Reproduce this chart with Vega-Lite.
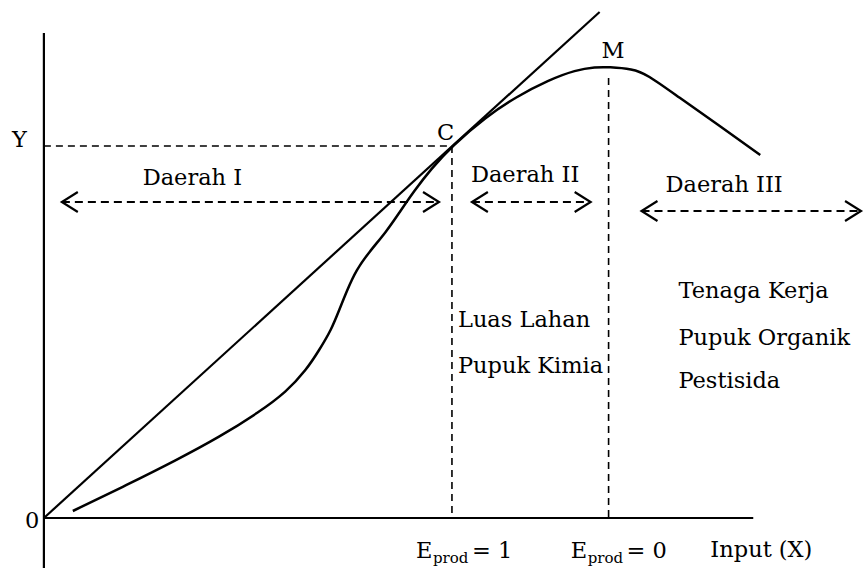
{
  "$schema": "https://vega.github.io/schema/vega-lite/v6.json",
  "width": 866,
  "height": 570,
  "padding": 0,
  "autosize": {"type": "fit", "contains": "padding"},
  "background": "white",
  "config": {"view": {"stroke": null}, "axis": {"disable": true}},
  "encoding": {
    "x": {"field": "x", "type": "quantitative", "scale": {"domain": [-44, 822], "nice": false, "zero": false}, "axis": null},
    "y": {"field": "y", "type": "quantitative", "scale": {"domain": [-52, 518], "nice": false, "zero": false}, "axis": null}
  },
  "layer": [
    {
      "data": {"values": [
        {"x": 0, "y": 485, "x2": 0, "y2": -50},
        {"x": 0, "y": 0, "x2": 711, "y2": 0},
        {"x": 0, "y": 0, "x2": 557, "y2": 506}
      ]},
      "mark": {"type": "rule", "color": "black", "strokeWidth": 2.2},
      "encoding": {"x2": {"field": "x2"}, "y2": {"field": "y2"}}
    },
    {
      "data": {"values": [
        {"x": 0, "y": 372, "x2": 409, "y2": 372},
        {"x": 409, "y": 372, "x2": 409, "y2": 0},
        {"x": 566, "y": 440, "x2": 566, "y2": 0}
      ]},
      "mark": {"type": "rule", "color": "black", "strokeWidth": 1.6, "strokeDash": [7, 5]},
      "encoding": {"x2": {"field": "x2"}, "y2": {"field": "y2"}}
    },
    {
      "data": {"values": [
        {"x": 18, "y": 316, "x2": 396, "y2": 316},
        {"x": 429, "y": 316, "x2": 548, "y2": 316},
        {"x": 599, "y": 307, "x2": 819, "y2": 307}
      ]},
      "mark": {"type": "rule", "color": "black", "strokeWidth": 2.2, "strokeDash": [8, 5]},
      "encoding": {"x2": {"field": "x2"}, "y2": {"field": "y2"}}
    },
    {
      "data": {"values": [
        {"id": "a1", "o": 1, "x": 34, "y": 326}, {"id": "a1", "o": 2, "x": 18, "y": 316}, {"id": "a1", "o": 3, "x": 34, "y": 306},
        {"id": "a2", "o": 1, "x": 380, "y": 326}, {"id": "a2", "o": 2, "x": 396, "y": 316}, {"id": "a2", "o": 3, "x": 380, "y": 306},
        {"id": "b1", "o": 1, "x": 445, "y": 326}, {"id": "b1", "o": 2, "x": 429, "y": 316}, {"id": "b1", "o": 3, "x": 445, "y": 306},
        {"id": "b2", "o": 1, "x": 532, "y": 326}, {"id": "b2", "o": 2, "x": 548, "y": 316}, {"id": "b2", "o": 3, "x": 532, "y": 306},
        {"id": "c1", "o": 1, "x": 615, "y": 317}, {"id": "c1", "o": 2, "x": 599, "y": 307}, {"id": "c1", "o": 3, "x": 615, "y": 297},
        {"id": "c2", "o": 1, "x": 803, "y": 317}, {"id": "c2", "o": 2, "x": 819, "y": 307}, {"id": "c2", "o": 3, "x": 803, "y": 297}
      ]},
      "mark": {"type": "line", "color": "black", "strokeWidth": 2.2},
      "encoding": {"detail": {"field": "id"}, "order": {"field": "o", "type": "quantitative"}}
    },
    {
      "data": {"values": [
        {"x": 29, "y": 7}, {"x": 83, "y": 33}, {"x": 133, "y": 58}, {"x": 176, "y": 81},
        {"x": 216, "y": 106}, {"x": 243, "y": 126}, {"x": 263, "y": 148}, {"x": 276, "y": 168},
        {"x": 288, "y": 188}, {"x": 296, "y": 208}, {"x": 304, "y": 228}, {"x": 313, "y": 248},
        {"x": 326, "y": 266}, {"x": 343, "y": 286}, {"x": 356, "y": 305}, {"x": 371, "y": 327},
        {"x": 388, "y": 349}, {"x": 409, "y": 372}, {"x": 443, "y": 401}, {"x": 473, "y": 421},
        {"x": 506, "y": 438}, {"x": 533, "y": 448}, {"x": 553, "y": 451}, {"x": 566, "y": 451},
        {"x": 590, "y": 449}, {"x": 604, "y": 444}, {"x": 636, "y": 421}, {"x": 676, "y": 393},
        {"x": 718, "y": 363}
      ]},
      "mark": {"type": "line", "color": "black", "strokeWidth": 2.5, "interpolate": "basis"},
      "encoding": {"order": {"field": "x", "type": "quantitative"}}
    },
    {
      "data": {"values": [
        {"x": -32, "y": 371, "t": "Y"},
        {"x": -19, "y": -10, "t": "0"},
        {"x": 394, "y": 378, "t": "C"},
        {"x": 559, "y": 460, "t": "M"},
        {"x": 99, "y": 333, "t": "Daerah I"},
        {"x": 428, "y": 336, "t": "Daerah II"},
        {"x": 623, "y": 326, "t": "Daerah III"},
        {"x": 415, "y": 191, "t": "Luas Lahan"},
        {"x": 415, "y": 145, "t": "Pupuk Kimia"},
        {"x": 636, "y": 220, "t": "Tenaga Kerja"},
        {"x": 636, "y": 173, "t": "Pupuk Organik"},
        {"x": 636, "y": 130, "t": "Pestisida"},
        {"x": 373, "y": -40, "t": "E"},
        {"x": 429, "y": -40, "t": "= 1"},
        {"x": 528, "y": -40, "t": "E"},
        {"x": 584, "y": -40, "t": "= 0"},
        {"x": 668, "y": -39, "t": "Input (X)"}
      ]},
      "mark": {"type": "text", "font": "DejaVu Serif", "fontSize": 22.5, "align": "left", "baseline": "alphabetic", "color": "black"},
      "encoding": {"text": {"field": "t"}}
    },
    {
      "data": {"values": [
        {"x": 390, "y": -45, "t": "prod"},
        {"x": 545, "y": -45, "t": "prod"}
      ]},
      "mark": {"type": "text", "font": "DejaVu Serif", "fontSize": 15, "align": "left", "baseline": "alphabetic", "color": "black"},
      "encoding": {"text": {"field": "t"}}
    }
  ]
}
